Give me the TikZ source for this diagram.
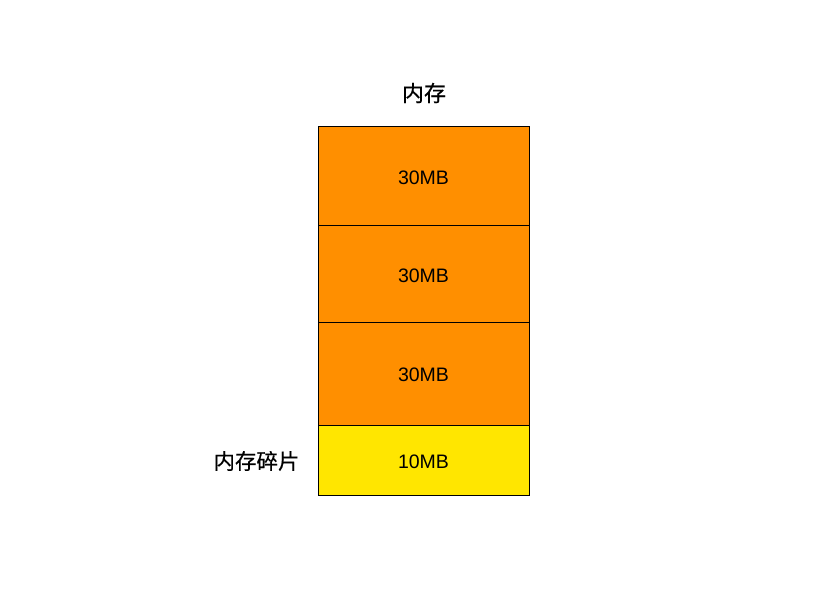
\documentclass[tikz,border=0pt]{standalone}
\usepackage{fontspec}
\setmainfont{Liberation Sans}
\newfontfamily\cjk[FakeBold=0.4]{Noto Sans CJK SC}
\definecolor{memorange}{HTML}{FF8F00}
\definecolor{memyellow}{HTML}{FFE600}
\begin{document}
\begin{tikzpicture}[x=1pt,y=-1pt,
  block/.style={draw=black,line width=0.9pt,minimum width=211pt,inner sep=0pt},
  used/.style={block,fill=memorange},
  frag/.style={block,fill=memyellow},
  size/.style={inner sep=0pt,font=\fontsize{19.5}{22}\selectfont},
  lbl/.style={inner sep=0pt,font=\cjk\fontsize{22}{24}\selectfont}]
\useasboundingbox (0,0) rectangle (839,592);
\node[used,minimum height=99pt] (b1) at (423.5,175.5) {};
\node[used,minimum height=97pt] (b2) at (423.5,273.5) {};
\node[used,minimum height=103pt] (b3) at (423.5,373.5) {};
\node[frag,minimum height=70pt] (b4) at (423.5,460) {};
\node[size] (t1) at ([yshift=-2.5pt]b1.center) {30MB};
\node[size] (t2) at ([yshift=-2.5pt]b2.center) {30MB};
\node[size] (t3) at ([yshift=-1pt]b3.center) {30MB};
\node[size] (t4) at ([yshift=-1.5pt]b4.center) {10MB};
\node[lbl] (title) at (424,93) {内存};
\node[lbl,font=\cjk\fontsize{21.5}{24}\selectfont] (fraglbl) at (256.5,461) {内存碎片};
\end{tikzpicture}
\end{document}
